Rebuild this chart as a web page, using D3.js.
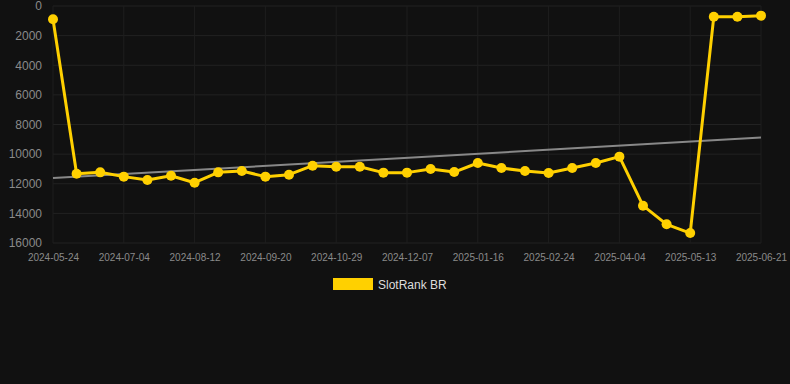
<!DOCTYPE html>
<html><head><meta charset="utf-8">
<script src="https://cdn.jsdelivr.net/npm/d3@7"></script>
<style>html,body{margin:0;padding:0;background:#111111;}svg{display:block;}</style>
</head><body><svg id="c" width="790" height="384"></svg>
<script>
const dates = ["2024-05-24","2024-06-07","2024-06-21","2024-07-04","2024-07-17","2024-07-30","2024-08-12","2024-08-25","2024-09-07","2024-09-20","2024-10-03","2024-10-16","2024-10-29","2024-11-11","2024-11-24","2024-12-07","2024-12-20","2025-01-03","2025-01-16","2025-01-29","2025-02-11","2025-02-24","2025-03-09","2025-03-22","2025-04-04","2025-04-17","2025-04-30","2025-05-13","2025-05-26","2025-06-08","2025-06-21"];
const ranks = [900,11320,11230,11520,11750,11460,11930,11230,11140,11520,11390,10780,10850,10850,11250,11250,11010,11210,10600,10940,11140,11280,10940,10600,10170,13480,14740,15330,720,720,650];
const trendValues = [11620, 8880];
const yTicks = [0,2000,4000,6000,8000,10000,12000,14000,16000];
const tickDates = dates.filter((d,i)=>i%3===0);
const seriesName = "SlotRank BR";

const svg = d3.select("#c");
const pL=53, pR=761, pT=6, pB=243;
const x = d3.scalePoint().domain(dates).range([pL,pR]);
const y = d3.scaleLinear().domain([0,16000]).range([pT,pB]);

// grid
svg.append("g").selectAll("line").data(yTicks).join("line")
  .attr("x1",pL).attr("x2",pR).attr("y1",d=>y(d)).attr("y2",d=>y(d))
  .attr("stroke","#222").attr("stroke-width",1);
svg.append("g").selectAll("line").data(tickDates).join("line")
  .attr("x1",d=>x(d)).attr("x2",d=>x(d)).attr("y1",pT).attr("y2",pB)
  .attr("stroke","#1e1e1e").attr("stroke-width",1);

// y axis
const ya = svg.append("g").attr("transform",`translate(${pL-11},0)`)
  .call(d3.axisLeft(y).tickValues(yTicks).tickFormat(d3.format("d")).tickSize(0).tickPadding(0));
ya.select(".domain").remove();
ya.selectAll("text").attr("fill","#8a8a8a").attr("font-size","12px").attr("font-family","Arial, Liberation Sans, sans-serif");

// x axis
const xa = svg.append("g").attr("transform",`translate(0,${pB+11})`)
  .call(d3.axisBottom(x).tickValues(tickDates).tickSize(0).tickPadding(0));
xa.select(".domain").remove();
xa.selectAll("text").attr("fill","#8a8a8a").attr("font-size","10px").attr("dy","0.71em").attr("font-family","Arial, Liberation Sans, sans-serif");

// trend
svg.append("line")
  .attr("x1",x(dates[0])).attr("y1",y(trendValues[0]))
  .attr("x2",x(dates[dates.length-1])).attr("y2",y(trendValues[1]))
  .attr("stroke","#888").attr("stroke-width",2);

// line
const line = d3.line().x((d,i)=>x(dates[i])).y(d=>y(d));
svg.append("path").datum(ranks).attr("d",line).attr("fill","none")
  .attr("stroke","#FFD000").attr("stroke-width",3).attr("stroke-linejoin","round");
svg.append("g").selectAll("circle").data(ranks).join("circle")
  .attr("cx",(d,i)=>x(dates[i])).attr("cy",d=>y(d)).attr("r",5).attr("fill","#FFD000");

// legend
svg.append("rect").attr("x",333).attr("y",278).attr("width",40).attr("height",12).attr("fill","#FFD000");
svg.append("text").attr("x",378).attr("y",288.5).text(seriesName)
  .attr("fill","#dddddd").attr("font-size","12px").attr("font-family","Arial, Liberation Sans, sans-serif");
</script></body></html>
